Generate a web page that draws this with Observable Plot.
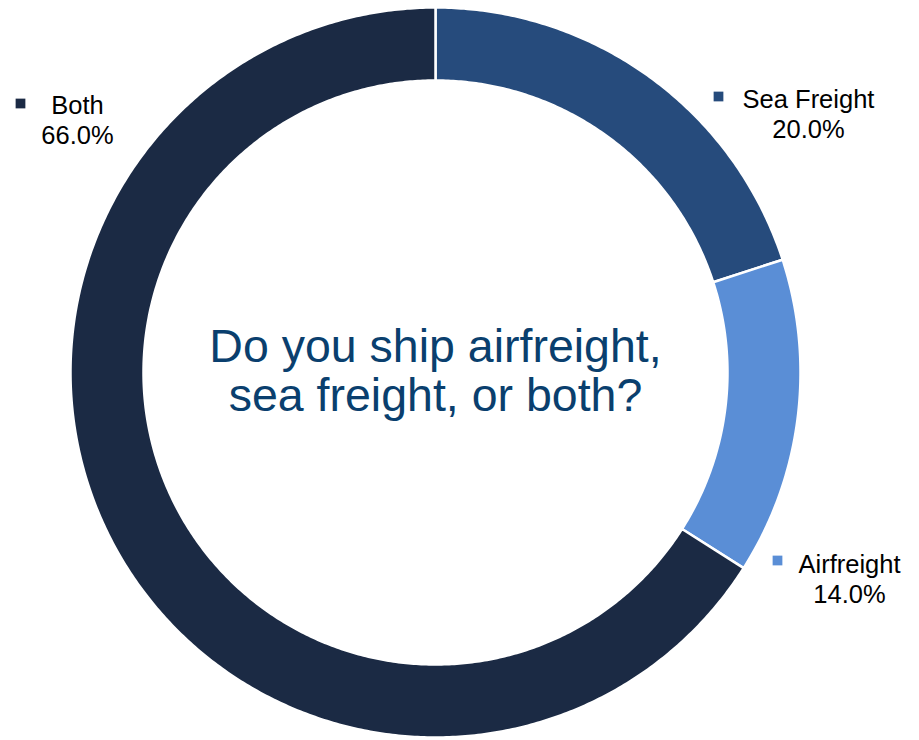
<!DOCTYPE html>
<html>
<head>
<meta charset="utf-8">
<script src="https://cdn.jsdelivr.net/npm/d3@7"></script>
<script src="https://cdn.jsdelivr.net/npm/@observablehq/plot@0.6"></script>
<style>
  html, body { margin: 0; padding: 0; background: #fff; }
  #chart { width: 919px; height: 740px; }
</style>
</head>
<body>
<div id="chart"></div>
<script>
// ---- data ----
const categories = ["Sea Freight", "Airfreight", "Both"];
const shares = [20.0, 14.0, 66.0];
const colors = ["#264b7c", "#5a8ed6", "#1b2a44"];
const titleLines = ["Do you ship airfreight,", "sea freight, or both?"];

// ---- layout (pixels) ----
const W = 919, H = 740;
const cx = 435, cy = 372, R = 365, innerRatio = 0.8;
const labelLayout = {
  "Both":        {tx: 77,  ty: 119, sx: 20,  sy: 103},
  "Sea Freight": {tx: 808, ty: 113, sx: 718, sy: 96},
  "Airfreight":  {tx: 849, ty: 578, sx: 777, sy: 560}
};
const toX = px => (px - cx) / R;
const toY = py => (cy - py) / R;

// ---- build arc polygons from data ----
const total = d3.sum(shares);
const arcs = [];
let acc = 0;
categories.forEach((c, i) => {
  const a0 = acc / total * 2 * Math.PI;
  acc += shares[i];
  const a1 = acc / total * 2 * Math.PI;
  const n = Math.max(8, Math.ceil((a1 - a0) / (Math.PI / 360)));
  const pts = [];
  for (let k = 0; k <= n; k++) {
    const a = a0 + (a1 - a0) * k / n;
    pts.push({cat: c, x: Math.sin(a), y: Math.cos(a)});
  }
  for (let k = n; k >= 0; k--) {
    const a = a0 + (a1 - a0) * k / n;
    pts.push({cat: c, x: innerRatio * Math.sin(a), y: innerRatio * Math.cos(a)});
  }
  pts.push({...pts[0]});
  arcs.push(...pts);
});

const labels = categories.map((c, i) => ({
  cat: c,
  text: `${c}\n${shares[i].toFixed(1)}%`,
  x: toX(labelLayout[c].tx), y: toY(labelLayout[c].ty),
  sx: toX(labelLayout[c].sx), sy: toY(labelLayout[c].sy)
}));

const chart = Plot.plot({
  width: W, height: H,
  margin: 0,
  x: {domain: [toX(0), toX(W)], axis: null},
  y: {domain: [toY(H), toY(0)], axis: null},
  color: {domain: categories, range: colors},
  style: {fontFamily: "Arial, 'Liberation Sans', sans-serif", background: "#fff"},
  marks: [
    Plot.line(arcs, {x: "x", y: "y", z: "cat", fill: "cat", stroke: "#fff", strokeWidth: 2.5, curve: "linear"}),
    Plot.text([titleLines.join("\n")], {x: () => 0, y: () => 0, dy: -2, text: d => d, fontSize: 46.5, fill: "#0a3f6e", lineHeight: 1.06, textAnchor: "middle", lineAnchor: "middle"}),
    Plot.text(labels, {x: "x", y: "y", text: "text", fontSize: 25.5, fill: "#000", lineHeight: 1.17, textAnchor: "middle", lineAnchor: "middle"}),
    Plot.dot(labels, {x: "sx", y: "sy", fill: "cat", symbol: "square", r: 5.5, stroke: null})
  ]
});
document.getElementById("chart").appendChild(chart);
</script>
</body>
</html>
